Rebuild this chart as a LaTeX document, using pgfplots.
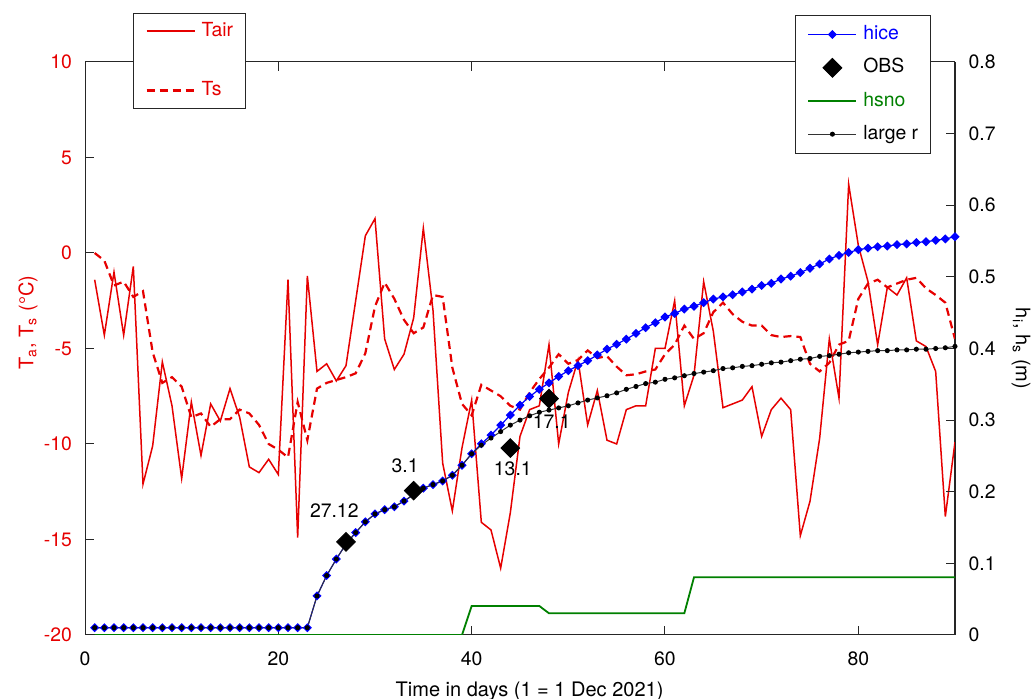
\documentclass[border=0pt]{standalone}
\usepackage{fontspec}
\setmainfont{TeX Gyre Heros}
\usepackage{pgfplots}
\pgfplotsset{compat=1.18}
\usepackage{pgfplotstable}

\definecolor{tred}{RGB}{230,0,0}
\definecolor{hgreen}{RGB}{0,128,0}
\definecolor{axgray}{RGB}{38,38,38}

% daily air and surface temperature (deg C)
\pgfplotstableread{
day Tair Ts
1 -1.4 0.0
2 -4.3 -0.4
3 -1.0 -1.7
4 -4.3 -1.5
5 -0.7 -2.3
6 -12.1 -2.0
7 -10.1 -5.2
8 -5.7 -6.8
9 -8.0 -6.5
10 -11.8 -7.0
11 -7.8 -8.6
12 -10.6 -8.4
13 -7.9 -9.1
14 -8.8 -8.7
15 -7.1 -8.7
16 -8.6 -8.2
17 -11.2 -8.4
18 -11.5 -9.0
19 -10.8 -10.0
20 -11.6 -10.3
21 -1.4 -10.7
22 -14.9 -7.8
23 -1.2 -9.8
24 -6.2 -7.1
25 -5.8 -6.8
26 -6.7 -6.65
27 -5.9 -6.5
28 -2.5 -6.3
29 0.9 -5.25
30 1.8 -2.8
31 -4.5 -1.55
32 -6.1 -2.4
33 -5.3 -3.5
34 -3.4 -4.2
35 1.3 -3.9
36 -3.0 -2.2
37 -11.0 -2.3
38 -13.5 -6.0
39 -10.2 -7.9
40 -7.7 -8.5
41 -14.1 -6.9
42 -14.5 -7.2
43 -16.5 -7.5
44 -13.6 -8.0
45 -9.6 -8.2
46 -8.2 -7.3
47 -8.0 -6.6
48 -4.8 -6.0
49 -10.0 -5.3
50 -7.3 -5.8
51 -5.6 -5.6
52 -9.0 -5.1
53 -7.2 -5.5
54 -9.8 -5.4
55 -10.0 -5.95
56 -8.2 -6.4
57 -8.0 -6.35
58 -8.0 -6.2
59 -5.0 -6.1
60 -5.0 -5.3
61 -2.5 -4.8
62 -8.0 -3.8
63 -6.4 -4.5
64 -1.5 -4.2
65 -4.1 -3.1
66 -8.1 -2.6
67 -7.9 -3.2
68 -7.7 -3.6
69 -7.0 -3.8
70 -9.6 -3.8
71 -8.2 -4.3
72 -7.6 -4.4
73 -8.2 -4.35
74 -14.8 -4.4
75 -13.0 -5.8
76 -9.7 -6.2
77 -4.5 -5.75
78 -7.6 -4.8
79 3.6 -4.6
80 0.4 -2.4
81 -1.5 -1.6
82 -4.8 -1.4
83 -1.8 -1.8
84 -2.2 -1.6
85 -1.3 -1.4
86 -4.6 -1.3
87 -4.9 -1.85
88 -6.2 -2.2
89 -13.8 -2.6
90 -9.9 -4.5
}\temps

% ice thickness: model (hice) and large r run (m)
\pgfplotstableread{
day hice larger
1 0.0102 0.0102
2 0.0102 0.0102
3 0.0102 0.0102
4 0.0102 0.0102
5 0.0102 0.0102
6 0.0102 0.0102
7 0.0102 0.0102
8 0.0102 0.0102
9 0.0102 0.0102
10 0.0102 0.0102
11 0.0102 0.0102
12 0.0102 0.0102
13 0.0102 0.0102
14 0.0102 0.0102
15 0.0102 0.0102
16 0.0102 0.0102
17 0.0102 0.0102
18 0.0102 0.0102
19 0.0102 0.0102
20 0.0102 0.0102
21 0.0102 0.0102
22 0.0102 0.0102
23 0.0102 0.0102
24 0.0545 0.0545
25 0.083 0.083
26 0.106 0.106
27 0.127 0.127
28 0.143 0.143
29 0.158 0.158
30 0.169 0.169
31 0.175 0.175
32 0.179 0.179
33 0.187 0.187
34 0.196 0.196
35 0.205 0.205
36 0.210 0.210
37 0.215 0.215
38 0.223 0.223
39 0.237 0.237
40 0.253 0.253
41 0.267 0.265
42 0.279 0.275
43 0.293 0.284
44 0.307 0.293
45 0.321 0.300
46 0.333 0.306
47 0.343 0.311
48 0.352 0.314
49 0.361 0.317
50 0.369 0.320
51 0.376 0.324
52 0.383 0.328
53 0.391 0.331
54 0.399 0.334
55 0.406 0.338
56 0.413 0.343
57 0.421 0.347
58 0.429 0.351
59 0.436 0.353
60 0.444 0.357
61 0.449 0.359
62 0.455 0.362
63 0.459 0.365
64 0.464 0.367
65 0.469 0.369
66 0.472 0.372
67 0.475 0.373
68 0.479 0.375
69 0.483 0.376
70 0.488 0.378
71 0.491 0.380
72 0.497 0.381
73 0.501 0.383
74 0.506 0.385
75 0.512 0.386
76 0.518 0.389
77 0.525 0.390
78 0.530 0.392
79 0.534 0.394
80 0.538 0.395
81 0.540 0.396
82 0.542 0.397
83 0.543 0.397
84 0.545 0.398
85 0.546 0.398
86 0.548 0.399
87 0.549 0.399
88 0.551 0.400
89 0.553 0.401
90 0.556 0.403
}\ice

\pgfplotstableread{
day obs
27 0.130
34 0.2015
44 0.261
48 0.330
}\obs

\pgfplotstableread{
day hsno
1 0
39 0
40 0.0405
47 0.0405
48 0.0303
62 0.0303
63 0.0806
90 0.0806
}\snow

\pgfplotsset{
  lineleg/.style={legend image code/.code={\draw[##1] (0pt,0pt) -- (24pt,0pt);}},
  tairleg/.style={legend image code/.code={\draw[tred, line width=0.9pt] (0pt,0.25pt) -- (24pt,0.25pt);}},
  markleg/.style={legend image code/.code={\draw[mark repeat=2, mark phase=2, ##1] plot coordinates {(0pt,0pt) (12pt,0pt) (24pt,0pt)};}},
  dotleg/.style={legend image code/.code={\draw[##1] plot coordinates {(12pt,0pt)};}},
  base/.style={
    width=435pt, height=286.5pt, scale only axis,
    xmin=0, xmax=90,
    tick align=inside, major tick length=4.3pt,
    axis line style={axgray, line width=0.5pt},
    every tick/.style={axgray, line width=0.5pt},
    tick label style={font=\fontsize{9.7}{11}\selectfont},
    label style={font=\fontsize{9.7}{11}\selectfont},
    /pgf/number format/assume math mode=true,
    legend style={draw=axgray, line width=0.5pt, fill=white,
      font=\fontsize{9.7}{11}\selectfont, anchor=north west,
      inner xsep=6pt, inner ysep=4.5pt, column sep=3pt,
      nodes={inner sep=0pt, text height=7pt, text depth=2pt},
      cells={anchor=west}},
    lineleg,
  },
}

\begin{document}
\begin{tikzpicture}
\begin{axis}[base,
  ymin=-20, ymax=10, ytick={-20,-15,-10,-5,0,5,10},
  xtick={0,20,40,60,80}, xtick pos=both, ytick pos=left,
  yticklabel style={tred, xshift=-3pt},
  xticklabel style={yshift=-4.8pt},
  xlabel={Time in days (1 = 1 Dec 2021)},
  ylabel={T\textsubscript{a}, T\textsubscript{s} (°C)},
  every axis x label/.style={at={(axis description cs:0.511,-0.1065)}, anchor=base},
  every axis y label/.style={at={(axis description cs:-0.0594,0.545)}, rotate=90, anchor=base, tred},
  legend style={at={(axis description cs:0.0552,1.0855)}, row sep=20.5pt},
]
\addplot[tred, line width=0.75pt, tairleg] table[x=day, y=Tair]{\temps};
\addlegendentry{\textcolor{tred}{Tair}}
\addplot[tred, line width=1.1pt, dash pattern=on 4pt off 2.5pt] table[x=day, y=Ts]{\temps};
\addlegendentry{\textcolor{tred}{Ts}}
\end{axis}

\begin{axis}[base,
  ymin=0, ymax=0.8, ytick={0,0.1,0.2,0.3,0.4,0.5,0.6,0.7,0.8},
  axis y line*=right, axis x line=none,
  yticklabel style={xshift=3.3pt},
  ylabel={h\textsubscript{i}, h\textsubscript{s} (m)},
  every axis y label/.style={at={(axis description cs:1.0701,0.5)}, rotate=-90, anchor=base},
  legend style={at={(axis description cs:0.8161,1.082)}, row sep=7.5pt, inner ysep=5pt},
]
\addplot[blue, line width=0.6pt, mark=square*, mark size=1.3pt,
  mark options={rotate=45, fill=blue, draw=blue}, markleg]
  table[x=day, y=hice]{\ice};
\addlegendentry{\textcolor{blue}{hice}}
\addplot[only marks, mark=square*, mark size=3.3pt,
  mark options={rotate=45, fill=black, draw=black}, dotleg]
  table[x=day, y=obs]{\obs};
\addlegendentry{OBS}
\addplot[hgreen, line width=0.9pt] table[x=day, y=hsno]{\snow};
\addlegendentry{\textcolor{hgreen}{hsno}}
\addplot[black!80, line width=0.5pt, mark=*, mark size=1pt,
  mark options={fill=black, draw=black}, markleg]
  table[x=day, y=larger]{\ice};
\addlegendentry{large r}

\node[font=\fontsize{9.7}{11}\selectfont, inner sep=0pt, xshift=-5.85pt, yshift=15.85pt] at (axis cs:27,0.130) {27.12};
\node[font=\fontsize{9.7}{11}\selectfont, inner sep=0pt, xshift=-4.3pt, yshift=12.35pt] at (axis cs:34,0.2015) {3.1};
\node[font=\fontsize{9.7}{11}\selectfont, inner sep=0pt, xshift=1.25pt, yshift=-10.6pt] at (axis cs:44,0.261) {13.1};
\node[font=\fontsize{9.7}{11}\selectfont, inner sep=0pt, xshift=1.35pt, yshift=-11.25pt] at (axis cs:48,0.330) {17.1};
\end{axis}

\pgfresetboundingbox
\path[use as bounding box] (-42.5pt,-32pt) rectangle (475.5pt,317.5pt);
\end{tikzpicture}
\end{document}
